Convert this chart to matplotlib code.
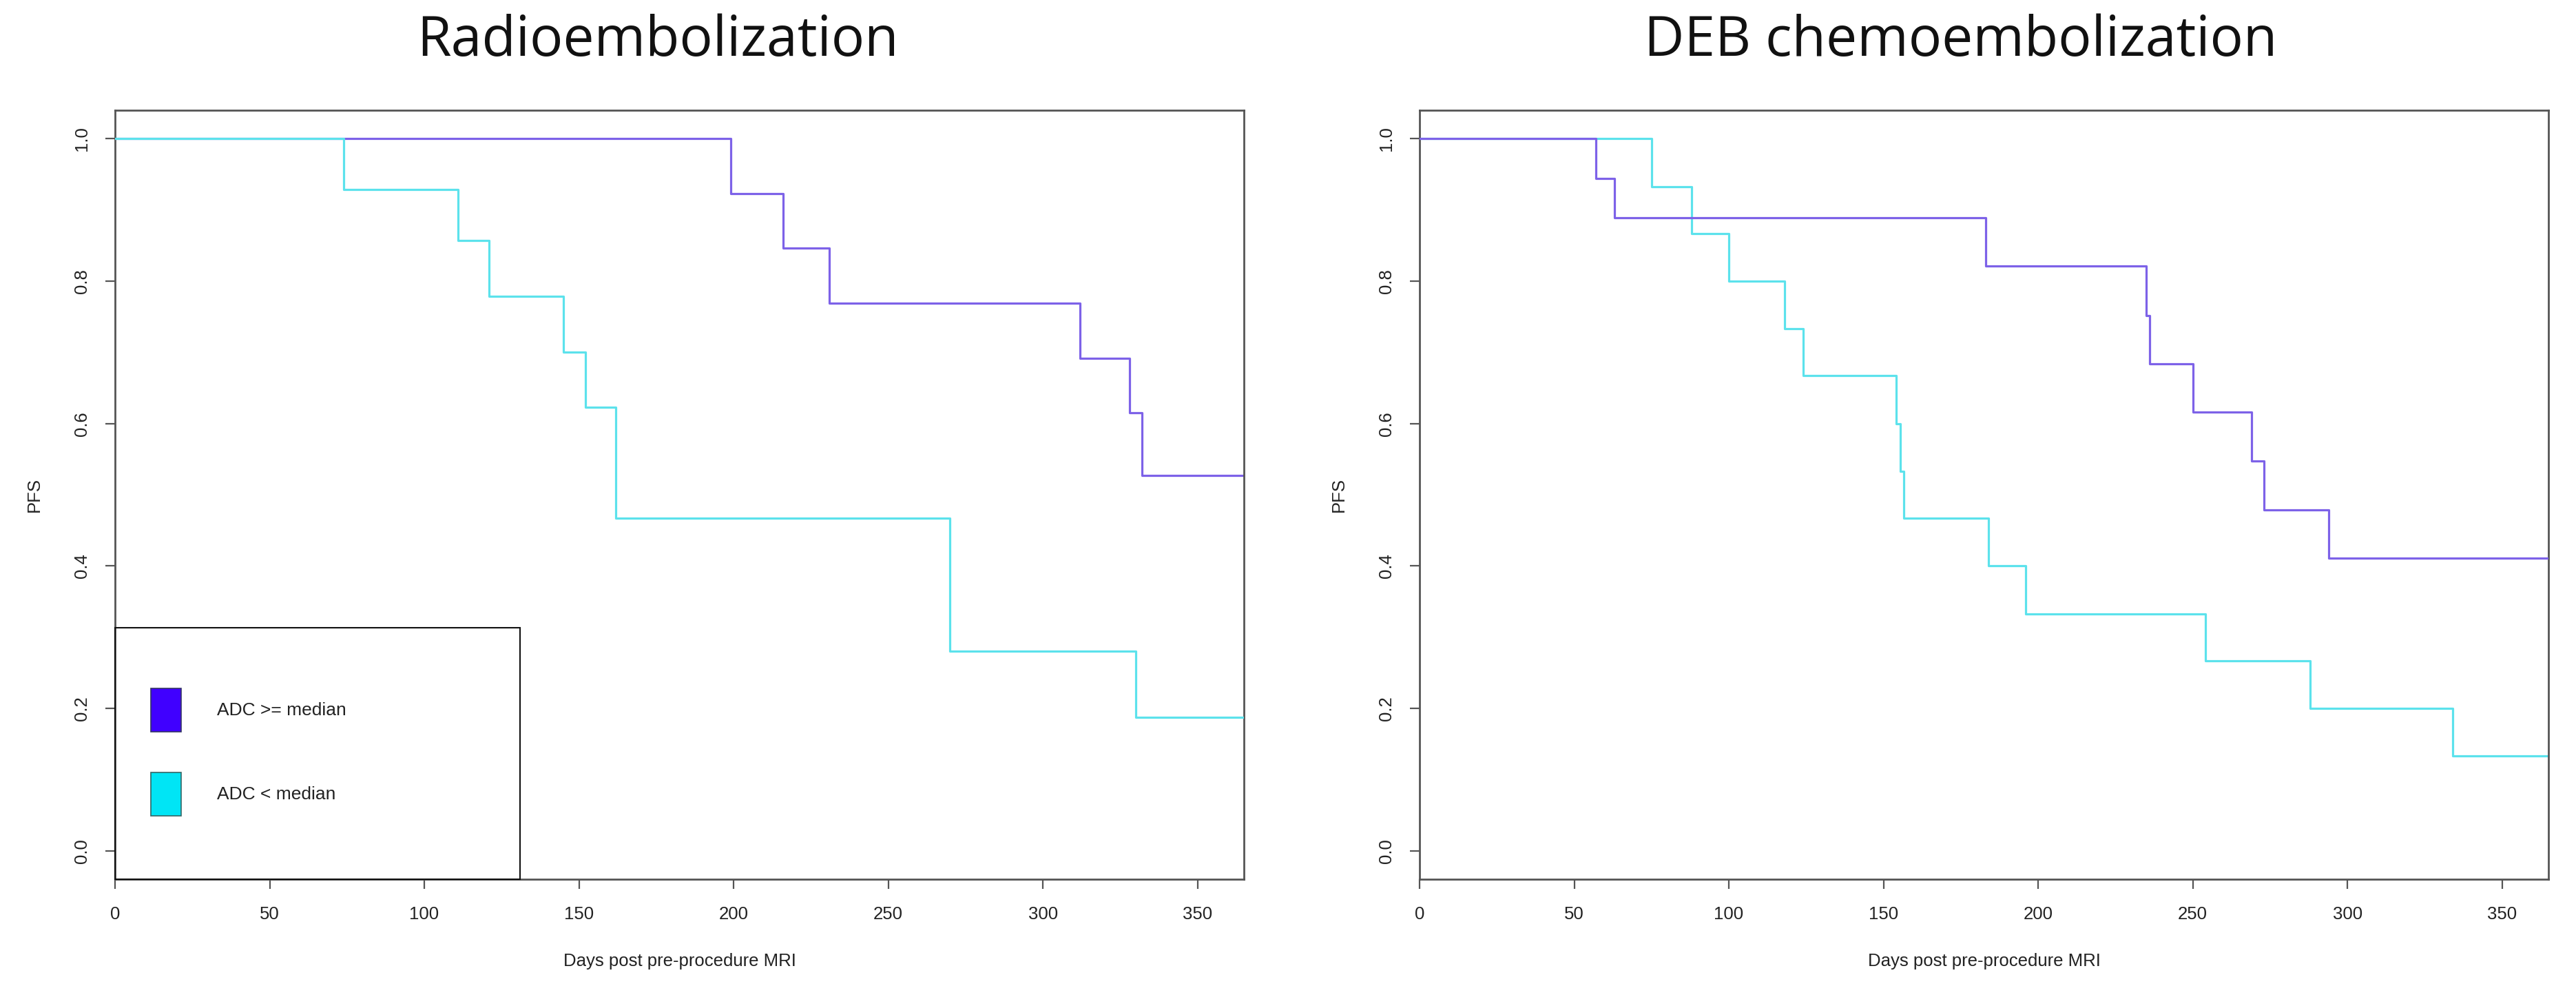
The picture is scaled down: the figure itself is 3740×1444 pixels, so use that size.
import matplotlib
matplotlib.use("Agg")
import matplotlib.pyplot as plt
from matplotlib.patches import Patch, Rectangle

# Kaplan-Meier style PFS curves
titles = ["Radioembolization", "DEB chemoembolization"]
legend_labels = ["ADC >= median", "ADC < median"]

rad_hi_t = [0, 199, 216, 231, 312, 328, 332, 365]
rad_hi_s = [1.0, 0.923, 0.846, 0.769, 0.692, 0.615, 0.527, 0.527]
rad_lo_t = [0, 74, 111, 121, 145, 152, 162, 270, 330, 365]
rad_lo_s = [1.0, 0.929, 0.857, 0.779, 0.700, 0.623, 0.467, 0.280, 0.187, 0.187]

deb_hi_t = [0, 57, 63, 183, 235, 236, 250, 269, 273, 294, 365]
deb_hi_s = [1.0, 0.944, 0.889, 0.821, 0.752, 0.684, 0.616, 0.547, 0.479, 0.411, 0.411]
deb_lo_t = [0, 75, 88, 100, 118, 124, 154, 155.4, 156.5, 184, 196, 254, 288, 334, 365]
deb_lo_s = [1.0, 0.933, 0.867, 0.800, 0.733, 0.667, 0.600, 0.533, 0.467, 0.400,
            0.333, 0.267, 0.200, 0.133, 0.133]

x_ticks = [0, 50, 100, 150, 200, 250, 300, 350]
y_ticks = [0.0, 0.2, 0.4, 0.6, 0.8, 1.0]

purple_line = "#7d62e8"
cyan_line = "#5ce2ec"
purple_fill = "#4000ff"
cyan_fill = "#00e5f5"
frame_col = "#555555"

plt.rcParams["font.family"] = ["Liberation Sans", "DejaVu Sans"]

fig = plt.figure(figsize=(37.4, 14.44), dpi=100)
W, H = 3740, 1444

ax_l = fig.add_axes([167 / W, 1 - 1276 / H, 1639 / W, 1116 / H])
ax_r = fig.add_axes([2061 / W, 1 - 1276 / H, 1639 / W, 1116 / H])

# left: cyan over purple, right: purple over cyan
ax_l.step(rad_hi_t, rad_hi_s, where="post", color=purple_line, lw=2.3, zorder=2)
ax_l.step(rad_lo_t, rad_lo_s, where="post", color=cyan_line, lw=2.3, zorder=3)
ax_r.step(deb_lo_t, deb_lo_s, where="post", color=cyan_line, lw=2.3, zorder=2)
ax_r.step(deb_hi_t, deb_hi_s, where="post", color=purple_line, lw=2.3, zorder=3)

for ax in [ax_l, ax_r]:
    ax.set_xlim(0, 365)
    ax.set_ylim(-0.04, 1.04)
    ax.set_xticks(x_ticks)
    ax.set_xticklabels([str(v) for v in x_ticks])
    ax.set_yticks(y_ticks)
    ax.set_yticklabels(["%.1f" % v for v in y_ticks])
    for s in ax.spines.values():
        s.set_color(frame_col)
        s.set_linewidth(2.0)
    ax.tick_params(axis="both", direction="out", length=10, width=1.6,
                   color=frame_col, labelsize=18.5, labelcolor="#222222")
    ax.tick_params(axis="x", pad=18)
    ax.tick_params(axis="y", pad=16, labelrotation=90)
    for lab in ax.get_yticklabels():
        lab.set_va("center")
    ax.set_xlabel("Days post pre-procedure MRI", fontsize=18.5, color="#222222")
    ax.xaxis.set_label_coords(0.5, -0.1066)
    ax.xaxis.label.set_va("center")
    ax.set_ylabel("PFS", fontsize=18.5, color="#222222")
    ax.yaxis.set_label_coords(-117 / 1639, 0.5)
    ax.yaxis.label.set_va("center")

# legend box in the left panel
ax_l.add_patch(Rectangle((0, 0), 588 / 1639, 365 / 1116, transform=ax_l.transAxes,
                         fill=False, edgecolor="#111111", lw=1.5, zorder=4, clip_on=False))
handles = [Patch(facecolor=purple_fill, edgecolor="#333366", lw=1.2),
           Patch(facecolor=cyan_fill, edgecolor="#336666", lw=1.2)]
ax_l.legend(handles, legend_labels, loc="lower left",
            bbox_to_anchor=(52 / 1639, 92 / 1116), borderaxespad=0, borderpad=0,
            frameon=False, fontsize=19, handlelength=1.67, handleheight=3.29,
            labelspacing=2.23, handletextpad=1.97, labelcolor="#222222")

# panel titles
fig.text(955 / W, 1 - 60 / H, titles[0], ha="center", va="center",
         fontsize=58, family="Open Sans", color="#111111")
fig.text(2847 / W, 1 - 60 / H, titles[1], ha="center", va="center",
         fontsize=58, family="Open Sans", color="#111111")

fig.savefig("out.png", dpi=100, facecolor="white")
